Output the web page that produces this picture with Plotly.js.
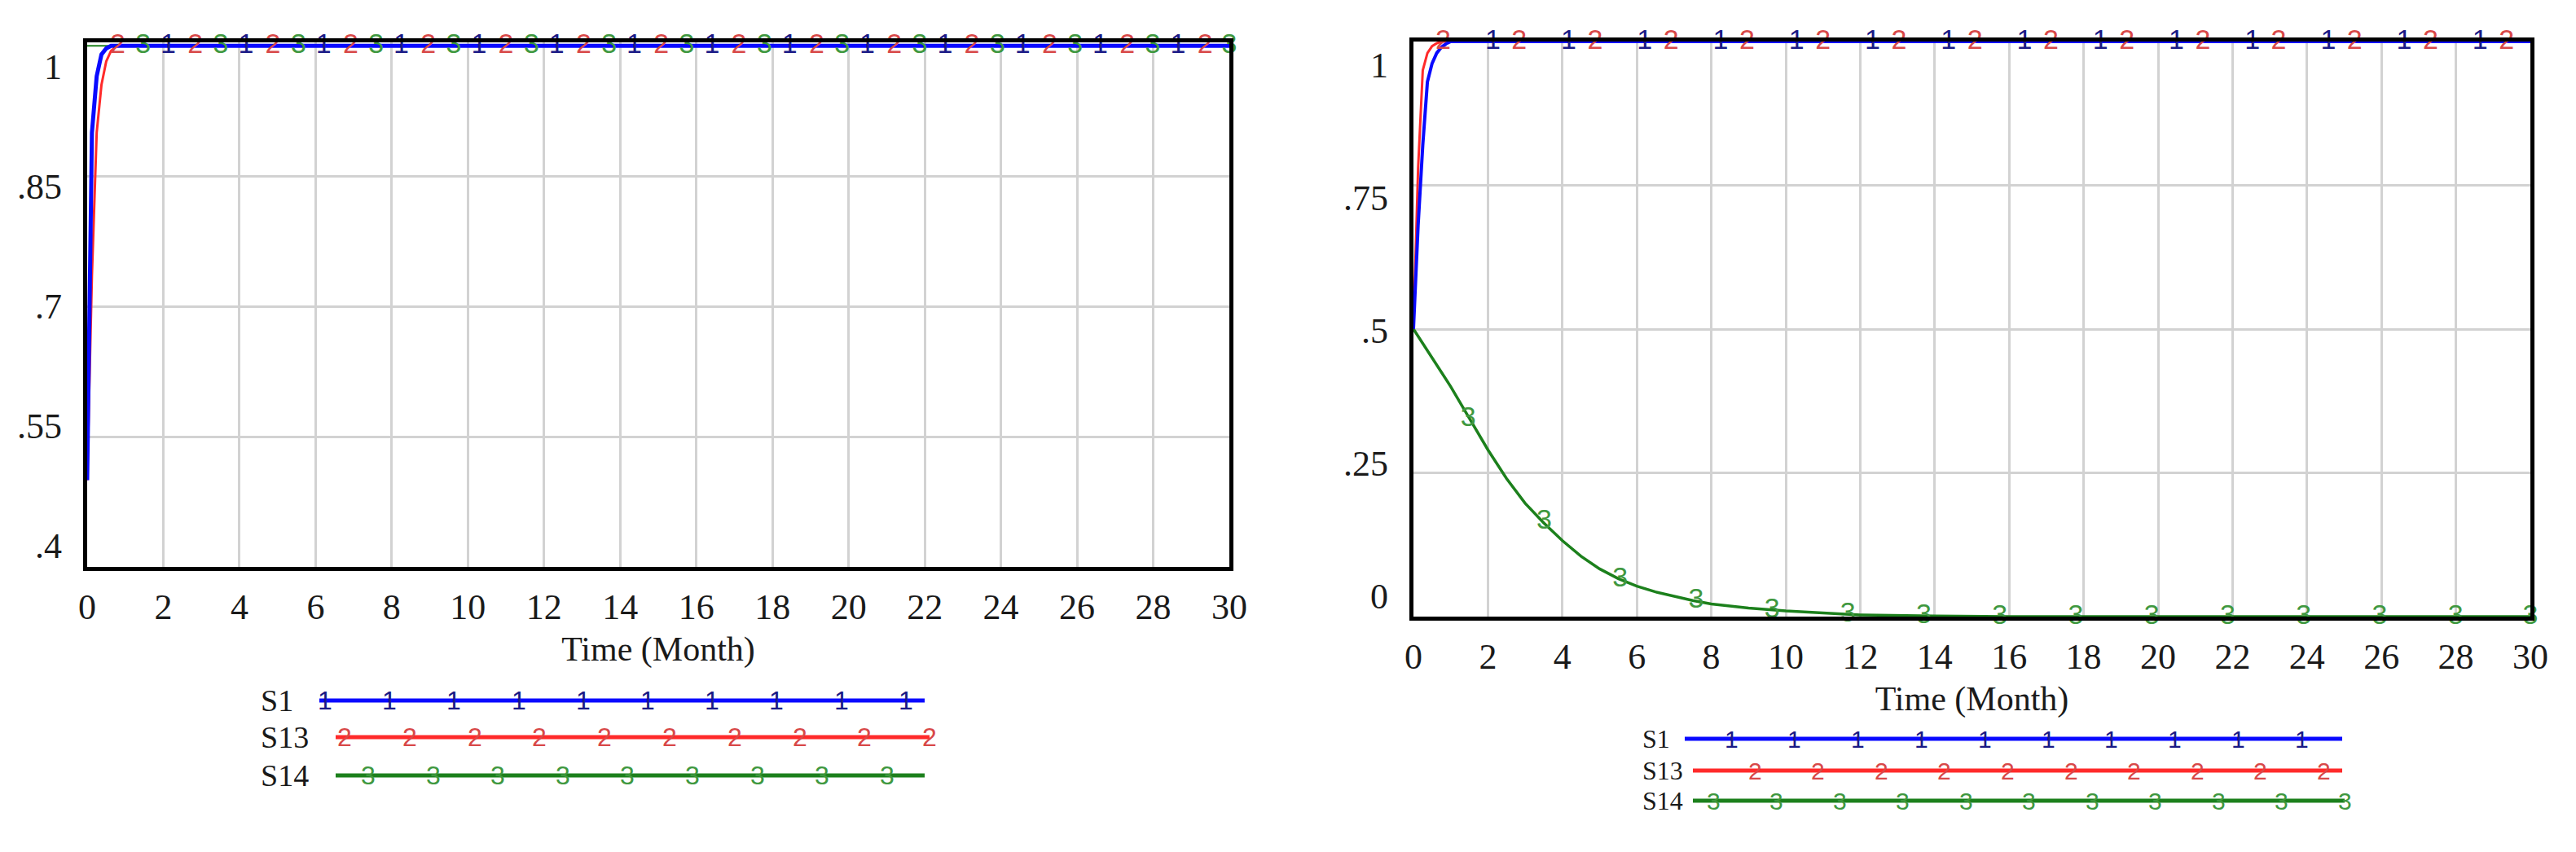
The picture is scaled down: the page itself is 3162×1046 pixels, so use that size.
<!DOCTYPE html>
<html><head><meta charset="utf-8">
<script src="https://cdn.plot.ly/plotly-3.0.1.min.js"></script>
<style>html,body{margin:0;padding:0;background:#fff;}#chart{width:3162px;height:1046px;}</style>
</head><body><div id="chart"></div>
<script>
// ---- data ----
const seriesNames = ['S1', 'S13', 'S14'];
const seriesDigits = ['1', '2', '3'];

// early-time grid for the fast-rising series
const tFast = [0, 0.125, 0.25, 0.375, 0.5, 0.625, 0.75, 0.875, 1, 30];
// left chart
const leftS1  = [0.5, 0.90, 0.965, 0.99, 0.997, 1, 1, 1, 1, 1];
const leftS13 = [0.5, 0.735, 0.90, 0.955, 0.982, 0.994, 0.999, 1, 1, 1];
const leftS14 = [1, 1, 1, 1, 1, 1, 1, 1, 1, 1];
// right chart
const rightS1  = [0.5, 0.68, 0.82, 0.93, 0.962, 0.98, 0.99, 0.996, 1, 1];
const rightS13 = [0.5, 0.78, 0.95, 0.98, 0.992, 0.997, 1, 1, 1, 1];
const tSlow = [0, 0.5, 1, 1.5, 2, 2.5, 3, 3.5, 4, 4.5, 5, 5.5, 6, 6.5, 7, 7.5, 8, 9, 10, 11, 12, 14, 16, 30];
const rightS14 = [0.5, 0.45, 0.40, 0.345, 0.29, 0.24, 0.197, 0.163, 0.132, 0.105, 0.083, 0.066, 0.053, 0.043, 0.035, 0.028, 0.022, 0.015, 0.010, 0.006, 0.003, 0.001, 0, 0];

// series-number labels drawn along the lines (times and values)
const markT1 = [2.13, 4.17, 6.21, 8.25, 10.29, 12.33, 14.37, 16.41, 18.45, 20.49, 22.53, 24.57, 26.61, 28.65];
const markT2 = [0.8, 2.84, 4.88, 6.92, 8.96, 11.0, 13.04, 15.08, 17.12, 19.16, 21.2, 23.24, 25.28, 27.32, 29.36];
const markT3 = [1.47, 3.51, 5.55, 7.59, 9.63, 11.67, 13.71, 15.75, 17.79, 19.83, 21.87, 23.91, 25.95, 27.99, 30.0];
const markV1 = [1, 1, 1, 1, 1, 1, 1, 1, 1, 1, 1, 1, 1, 1];
const markV2 = [1, 1, 1, 1, 1, 1, 1, 1, 1, 1, 1, 1, 1, 1, 1];
const markV3left  = [1, 1, 1, 1, 1, 1, 1, 1, 1, 1, 1, 1, 1, 1, 1];
const markV3right = [0.343, 0.165, 0.065, 0.027, 0.011, 0.004, 0.001, 0, 0, 0, 0, 0, 0, 0, 0];

// axis tick labels
const xTicks = [0, 2, 4, 6, 8, 10, 12, 14, 16, 18, 20, 22, 24, 26, 28, 30];
const leftYVals = [0.4, 0.55, 0.7, 0.85, 1];
const leftYText = ['.4', '.55', '.7', '.85', '1'];
const rightYVals = [0, 0.25, 0.5, 0.75, 1];
const rightYText = ['0', '.25', '.5', '.75', '1'];
const xTitle = 'Time (Month)';

// ---- styling ----
const W = 3162, H = 1046;
const col = ['#0a0aff', '#ff2a2a', '#1c801c'];
const digitCol = ['#1a1a86', '#d84848', '#3f983f'];
const serif = 'Liberation Serif, Times New Roman, serif';
const sans = 'Liberation Sans, Arial, sans-serif';
const px = v => v / W, py = v => 1 - v / H;

function lineTrace(x, y, c, w, xa, ya) {
  return {x: x, y: y, mode: 'lines', line: {color: c, width: w}, xaxis: xa, yaxis: ya, hoverinfo: 'skip', showlegend: false};
}
function textTrace(x, y, d, c, xa, ya) {
  return {x: x, y: y, mode: 'text', text: x.map(() => d), textposition: 'middle center',
    textfont: {family: sans, size: 34, color: c},
    cliponaxis: false, xaxis: xa, yaxis: ya, hoverinfo: 'skip', showlegend: false};
}

const traces = [
  lineTrace(tFast, leftS14, col[2], 2, 'x', 'y'),
  lineTrace(tFast, leftS13, col[1], 3, 'x', 'y'),
  lineTrace(tFast, leftS1, col[0], 5, 'x', 'y'),
  textTrace(markT3, markV3left, seriesDigits[2], digitCol[2], 'x', 'y'),
  textTrace(markT2, markV2, seriesDigits[1], digitCol[1], 'x', 'y'),
  textTrace(markT1, markV1, seriesDigits[0], digitCol[0], 'x', 'y'),
  lineTrace(tSlow, rightS14, col[2], 3.5, 'x2', 'y2'),
  lineTrace(tFast, rightS13, col[1], 3, 'x2', 'y2'),
  lineTrace(tFast, rightS1, col[0], 4, 'x2', 'y2'),
  textTrace(markT3, markV3right, seriesDigits[2], digitCol[2], 'x2', 'y2'),
  textTrace(markT2, markV2, seriesDigits[1], digitCol[1], 'x2', 'y2'),
  textTrace(markT1, markV1, seriesDigits[0], digitCol[0], 'x2', 'y2'),
  // carriers for the label-only overlay axes
  {x: [0], y: [null], mode: 'lines', xaxis: 'x', yaxis: 'y3', hoverinfo: 'skip', showlegend: false},
  {x: [0], y: [null], mode: 'lines', xaxis: 'x2', yaxis: 'y4', hoverinfo: 'skip', showlegend: false}
];

const tickFont = {family: serif, size: 44, color: '#1a1a1a'};
function xAxis(dom, anchor) {
  return {domain: dom, anchor: anchor, range: [0, 30], tickvals: xTicks, ticks: '', showgrid: true,
    gridcolor: '#d2d2d2', gridwidth: 3, showline: true, mirror: true, linecolor: '#000', linewidth: 5,
    zeroline: false, tickfont: tickFont, ticklabelstandoff: 6, fixedrange: true,
    title: {text: xTitle, font: {family: serif, size: 42, color: '#1a1a1a'}, standoff: 14}};
}
function yAxis(dom, anchor, rng, grid) {
  return {domain: dom, anchor: anchor, range: rng, tickvals: grid, showticklabels: false, ticks: '',
    showgrid: true, gridcolor: '#d2d2d2', gridwidth: 3, showline: true, mirror: true, linecolor: '#000',
    linewidth: 5, zeroline: false, fixedrange: true};
}
function labelAxis(dom, over, anchor, rng, vals, txt) {
  return {domain: dom, overlaying: over, anchor: anchor, side: 'left', range: rng, tickvals: vals, ticktext: txt,
    ticks: '', showgrid: false, showline: false, zeroline: false, tickfont: tickFont, ticklabelstandoff: 30, fixedrange: true};
}

const domXL = [px(107), px(1509)], domYL = [py(696), py(52)];
const domXR = [px(1735), px(3106)], domYR = [py(757), py(51)];

// legend (drawn as shapes + text)
const legends = [
  {labelX: 318, font: 38, digit: 32, rows: [
    {y: 860, x0: 392, x1: 1135, first: 399, step: 79.2, n: 10},
    {y: 905, x0: 412, x1: 1141, first: 423, step: 79.8, n: 10},
    {y: 952, x0: 412, x1: 1135, first: 452, step: 79.6, n: 9}]},
  {labelX: 2014, font: 32, digit: 30, rows: [
    {y: 907, x0: 2068, x1: 2875, first: 2125, step: 77.8, n: 10},
    {y: 946, x0: 2078, x1: 2875, first: 2154, step: 77.6, n: 10},
    {y: 983, x0: 2078, x1: 2878, first: 2103, step: 77.5, n: 11}]}
];
const shapes = [], annotations = [];
legends.forEach(L => {
  L.rows.forEach((r, i) => {
    shapes.push({type: 'line', xref: 'paper', yref: 'paper', x0: px(r.x0), x1: px(r.x1), y0: py(r.y), y1: py(r.y),
      line: {color: col[i], width: 5}});
    annotations.push({xref: 'paper', yref: 'paper', x: px(L.labelX), y: py(r.y), xanchor: 'left', yanchor: 'middle',
      text: seriesNames[i], showarrow: false, font: {family: serif, size: L.font, color: '#1a1a1a'}});
    for (let k = 0; k < r.n; k++) {
      annotations.push({xref: 'paper', yref: 'paper', x: px(r.first + k * r.step), y: py(r.y), xanchor: 'center', yanchor: 'middle',
        text: seriesDigits[i], showarrow: false, font: {family: sans, size: L.digit, color: digitCol[i]}});
    }
  });
});

const layout = {
  width: W, height: H, margin: {l: 0, r: 0, t: 0, b: 0, pad: 0},
  paper_bgcolor: '#fff', plot_bgcolor: '#fff', showlegend: false,
  xaxis: xAxis(domXL, 'y'),
  yaxis: yAxis(domYL, 'x', [0.4, 1.004], [0.55, 0.7, 0.85]),
  yaxis3: labelAxis(domYL, 'y', 'x', [0.3735, 1.0306], leftYVals, leftYText),
  xaxis2: xAxis(domXR, 'y2'),
  yaxis2: yAxis(domYR, 'x2', [0, 1], [0.25, 0.5, 0.75]),
  yaxis4: labelAxis(domYR, 'y2', 'x2', [-0.0383, 1.0445], rightYVals, rightYText),
  shapes: shapes, annotations: annotations
};
Plotly.newPlot('chart', traces, layout, {staticPlot: true, displayModeBar: false});
</script></body></html>
